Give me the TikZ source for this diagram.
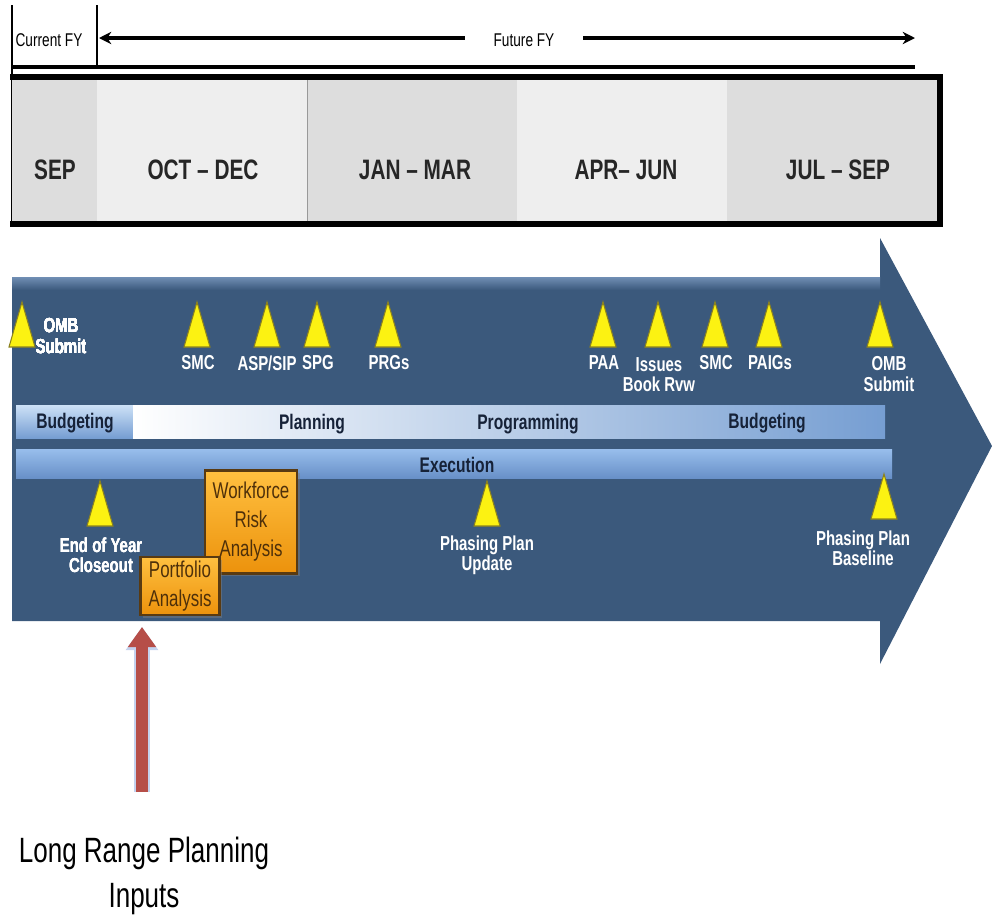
\documentclass[tikz,border=0pt]{standalone}
\usepackage{fontspec}
\setmainfont{Liberation Sans}[FakeStretch=0.74]
\usetikzlibrary{arrows.meta,shadows}

\definecolor{arrowblue}{RGB}{59,89,124}
\definecolor{arrowtop}{RGB}{112,142,180}
\definecolor{monthdark}{RGB}{221,221,221}
\definecolor{monthlight}{RGB}{238,238,238}
\definecolor{triyellow}{RGB}{252,242,18}
\definecolor{triedge}{RGB}{140,130,30}
\definecolor{bandtop}{RGB}{205,225,247}
\definecolor{bandblue}{RGB}{118,158,210}
\definecolor{exectop}{RGB}{152,190,236}
\definecolor{execbot}{RGB}{104,144,200}
\definecolor{bandtext}{RGB}{22,34,56}
\definecolor{orangetop}{RGB}{255,192,64}
\definecolor{orangebot}{RGB}{236,146,12}
\definecolor{orangeedge}{RGB}{88,58,18}
\definecolor{tasktext}{RGB}{78,48,10}
\definecolor{inputred}{RGB}{182,78,72}
\definecolor{inputglow}{RGB}{196,210,238}

\newcommand\miletri[2]{\filldraw[fill=triyellow,draw=triedge,line width=0.6pt]
  (#1-13,#2+45) -- (#1,#2) -- (#1+13,#2+45) -- cycle;}

\begin{document}
\begin{tikzpicture}[x=0.02cm,y=-0.02cm,
    fy/.style={font=\fontsize{10.5}{12}\selectfont},
    month/.style={font=\bfseries\fontsize{16}{18}\selectfont,text=black!85},
    mile/.style={font=\bfseries\fontsize{11.5}{11.5}\selectfont,text=white,align=center,inner sep=1pt},
    band/.style={font=\bfseries\fontsize{12}{13}\selectfont,text=bandtext,inner sep=1pt},
    task/.style={draw=orangeedge,line width=1.2pt,top color=orangetop,bottom color=orangebot,
      text=tasktext,font=\fontsize{13}{16.5}\selectfont,align=center,inner sep=0pt,
      drop shadow={opacity=0.45,shadow xshift=1.5pt,shadow yshift=-1.5pt}},
    fyarrow/.style={line width=1.8pt,-{Stealth[length=7pt,width=7pt]}}]
    \useasboundingbox (0,0) rectangle (992,920);

    % fiscal years
    \draw[line width=0.8pt] (12,5) -- (12,222);
    \draw[line width=0.8pt] (97,5) -- (97,67);
    \node[fy] (curfy) at (49,40) {Current FY};
    \node[fy,minimum width=2.36cm] (futfy) at (524,40) {Future FY};
    \coordinate (fyleft) at (99,38);
    \coordinate (fyright) at (915,38);
    \draw[fyarrow] (futfy.west |- fyleft) -- (fyleft);
    \draw[fyarrow] (futfy.east |- fyright) -- (fyright);
    \draw[line width=2.2pt] (12,67) -- (915,67);

    % months
    \foreach \xa/\xb/\col in {12/97/monthdark,97/307/monthlight,307/517/monthdark,517/727/monthlight,727/940/monthdark}
        \fill[\col] (\xa,77) rectangle (\xb,224);
    \draw[black!40] (307,77) -- (307,224);
    \draw[line width=3pt] (10,77) -- (940,77) -- (940,224) -- (10,224);
    \node[month] (sep) at (55,170) {SEP};
    \node[month] (octdec) at (203,170) {OCT -- DEC};
    \node[month] (janmar) at (415,170) {JAN -- MAR};
    \node[month] (aprjun) at (626,170) {APR-- JUN};
    \node[month] (julsep) at (838,170) {JUL -- SEP};

    % big arrow
    \fill[arrowblue] (12,277) -- (880,277) -- (880,238) -- (992,446) -- (880,664)
        -- (880,621) -- (12,621) -- cycle;
    \fill[top color=arrowtop,bottom color=arrowblue] (12,277) rectangle (880,290);

    % milestones above the bands
    \foreach \x in {22,197,267,317,388,603,658,715,769,880}
        \miletri{\x}{302}
    \node[mile] (omba) at (61,336) {OMB\\Submit};
    \node[mile] (smca) at (198,363) {SMC};
    \node[mile] (aspsip) at (267,363) {ASP/SIP};
    \node[mile] (spg) at (318,363) {SPG};
    \node[mile] (prgs) at (389,363) {PRGs};
    \node[mile] (paa) at (604,363) {PAA};
    \node[mile] (ibr) at (659,375) {Issues\\Book Rvw};
    \node[mile] (smcb) at (716,363) {SMC};
    \node[mile] (paigs) at (770,363) {PAIGs};
    \node[mile] (ombb) at (889,374) {OMB\\Submit};

    % bands
    \fill[top color=bandtop,bottom color=bandblue] (16,405) rectangle (133,438);
    \fill[left color=white,right color=bandblue] (133,405) rectangle (885,438);
    \fill[top color=exectop,bottom color=execbot] (16,449) rectangle (892,478);
    \node[band] (budga) at (75,423) {Budgeting};
    \node[band] (plan) at (312,424) {Planning};
    \node[band] (prog) at (528,424) {Programming};
    \node[band] (budgb) at (767,423) {Budgeting};
    \node[band] (exec) at (457,465) {Execution};

    % milestones below the bands
    \foreach \x/\y in {100/481,487/481,884/474}
        \miletri{\x}{\y}
    \node[mile] (eoy) at (101,555) {End of Year\\Closeout};
    \node[mile] (ppu) at (487,555) {Phasing Plan\\Update};
    \node[mile] (ppb) at (863,548) {Phasing Plan\\Baseline};

    % analyses
    \node[task,minimum width=1.84cm,minimum height=2.06cm] (wra) at (251,522) {Workforce\\Risk\\Analysis};
    \node[task,minimum width=1.58cm,minimum height=1.16cm] (port) at (180,586) {Portfolio\\Analysis};

    % long range inputs
    \node[font=\fontsize{20}{25.5}\selectfont,align=center] (lrp) at (144,876) {Long Range Planning\\Inputs};
    \coordinate (lrpfoot) at (142,792);
    \coordinate (lrptip) at (142,627);
    \draw[inputglow,line width=0.32cm,-{Triangle[width=0.62cm,length=0.46cm]}] (lrpfoot) -- (lrptip);
    \draw[inputred,line width=0.26cm,-{Triangle[width=0.54cm,length=0.4cm]}] (lrpfoot) -- (lrptip);
\end{tikzpicture}
\end{document}
